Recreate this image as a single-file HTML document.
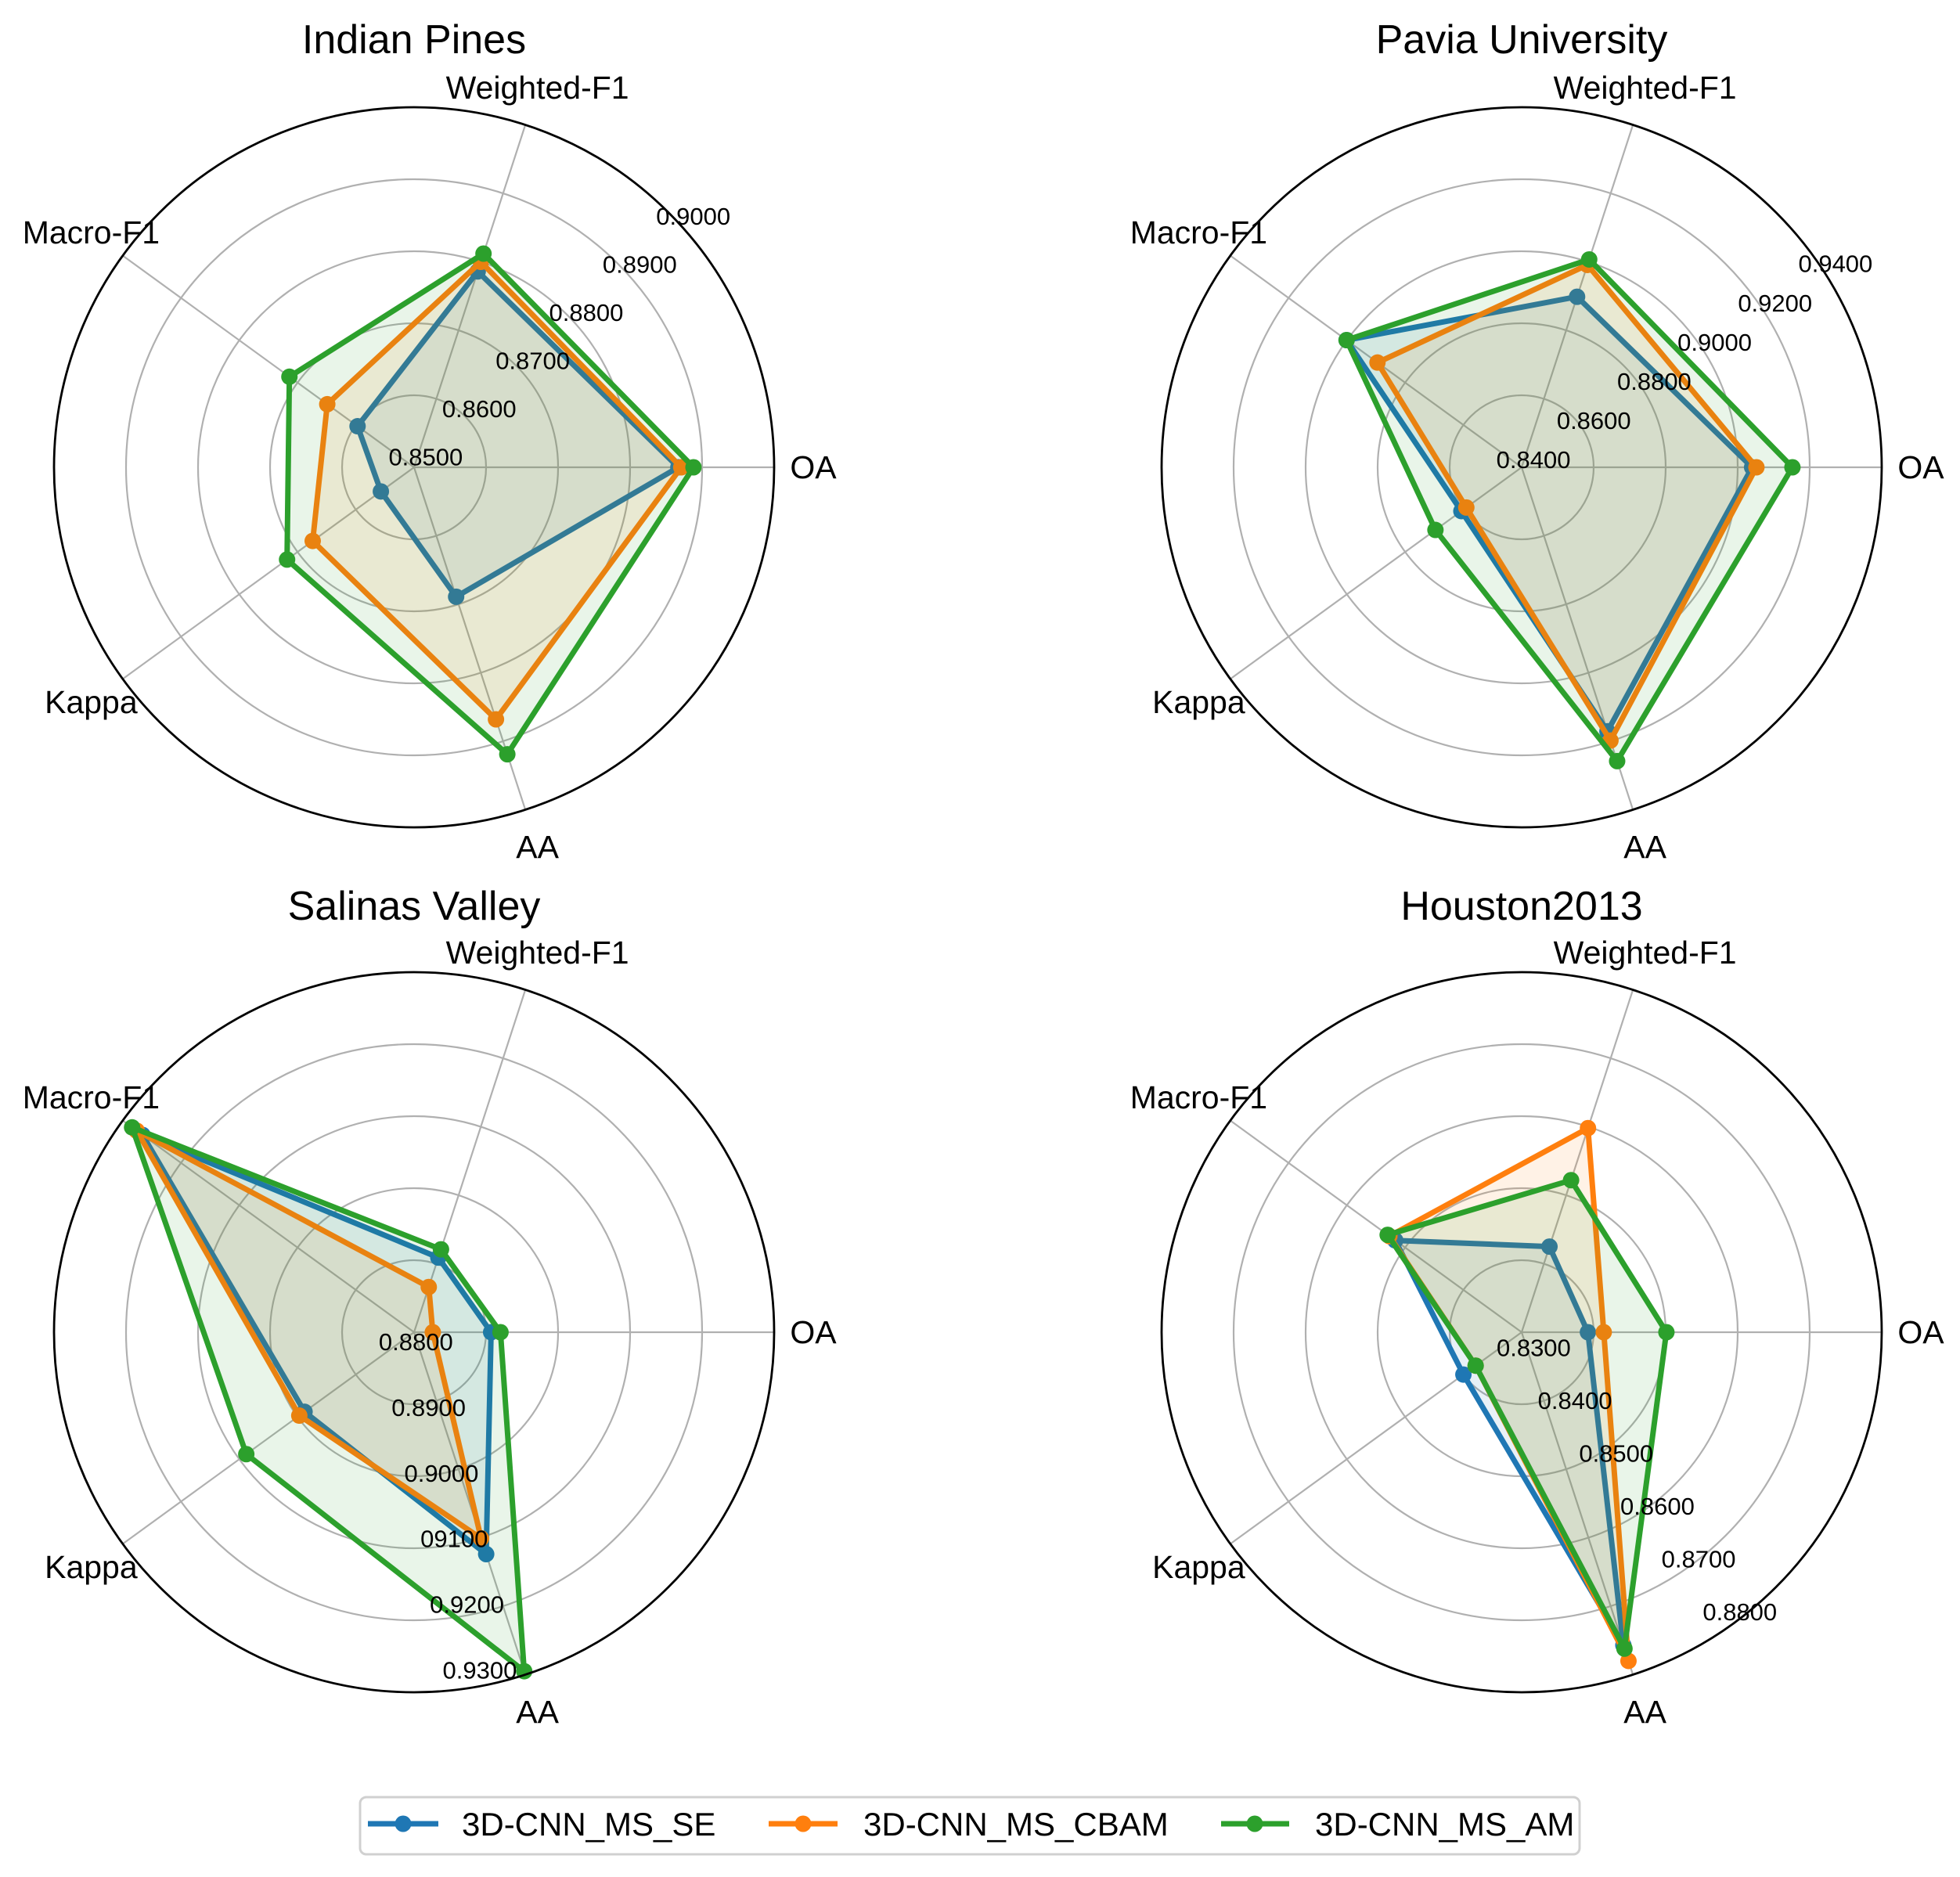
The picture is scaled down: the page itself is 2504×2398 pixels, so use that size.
<!DOCTYPE html>
<html><head><meta charset="utf-8"><style>
html,body{margin:0;padding:0;background:#fff;}
svg{display:block;font-family:"Liberation Sans","DejaVu Sans",sans-serif;}
</style></head><body>
<svg id="fig" width="2504" height="2398" viewBox="0 0 2504 2398" xmlns="http://www.w3.org/2000/svg">
<rect width="2504" height="2398" fill="#fff"/>
<g id="legend">
<rect x="460" y="2296" width="1558" height="73" rx="8" fill="#fff" stroke="#d0d0d0" stroke-width="3"/>
<g><line x1="470" y1="2330" x2="560" y2="2330" stroke="#1f77b4" stroke-width="7"/><circle cx="515" cy="2330" r="10.5" fill="#1f77b4"/><text x="590" y="2345" font-size="42">3D-CNN_MS_SE</text></g>
<g><line x1="982" y1="2330" x2="1070" y2="2330" stroke="#ff7f0e" stroke-width="7"/><circle cx="1026" cy="2330" r="10.5" fill="#ff7f0e"/><text x="1103" y="2345" font-size="42">3D-CNN_MS_CBAM</text></g>
<g><line x1="1560" y1="2330" x2="1647" y2="2330" stroke="#2ca02c" stroke-width="7"/><circle cx="1603" cy="2330" r="10.5" fill="#2ca02c"/><text x="1680" y="2345" font-size="42">3D-CNN_MS_AM</text></g>
</g>
</svg>
<script>
const categories = ["OA","Weighted-F1","Macro-F1","Kappa","AA"];
const seriesNames = ["3D-CNN_MS_SE","3D-CNN_MS_CBAM","3D-CNN_MS_AM"];
const seriesColors = ["#1f77b4","#ff7f0e","#2ca02c"];
const titles = ["Indian Pines","Pavia University","Salinas Valley","Houston2013"];
const indianSE   = [0.8867,0.8786,0.8597,0.8557,0.8689];
const indianCBAM = [0.8871,0.8800,0.8649,0.8674,0.8868];
const indianAM   = [0.8888,0.8812,0.8714,0.8718,0.8919];
const paviaSE    = [0.9040,0.8898,0.9001,0.8607,0.9171];
const paviaCBAM  = [0.9052,0.8991,0.8895,0.8590,0.9198];
const paviaAM    = [0.9152,0.9007,0.9001,0.8696,0.9258];
const salinasSE  = [0.8907,0.8909,0.9266,0.8988,0.9124];
const salinasCBAM= [0.8826,0.8866,0.9276,0.8997,0.9101];
const salinasAM  = [0.8920,0.8921,0.9284,0.9088,0.9295];
const houstonSE  = [0.8392,0.8425,0.8517,0.8400,0.8757];
const houstonCBAM= [0.8414,0.8598,0.8527,0.8379,0.8780];
const houstonAM  = [0.8501,0.8522,0.8530,0.8379,0.8762];
const indianTicks  = ["0.8500","0.8600","0.8700","0.8800","0.8900","0.9000"];
const paviaTicks   = ["0.8400","0.8600","0.8800","0.9000","0.9200","0.9400"];
const salinasTicks = ["0.8800","0.8900","0.9000","09100","0.9200","0.9300"];
const houstonTicks = ["0.8300","0.8400","0.8500","0.8600","0.8700","0.8800"];
const rMins = [0.85,0.84,0.88,0.83];
const rMaxs = [0.90,0.94,0.93,0.88];

const panels = [
 {cx:529,cy:597,ty:68,data:[indianSE,indianCBAM,indianAM],ticks:indianTicks,la:42,lk:1,lo:20,name:"indian-pines"},
 {cx:1944,cy:597,ty:68,data:[paviaSE,paviaCBAM,paviaAM],ticks:paviaTicks,la:33,lk:1,lo:18,name:"pavia-university"},
 {cx:529,cy:1702,ty:1175,data:[salinasSE,salinasCBAM,salinasAM],ticks:salinasTicks,la:-79,lk:0.93,lo:12,name:"salinas-valley"},
 {cx:1944,cy:1702,ty:1175,data:[houstonSE,houstonCBAM,houstonAM],ticks:houstonTicks,la:-52,lk:0.93,lo:25,name:"houston2013"}
];
const R = 460;
const NS = "http://www.w3.org/2000/svg";
const svg = document.getElementById('fig');
const legend = document.getElementById('legend');
function mk(tag, attrs, parent){const e=document.createElementNS(NS,tag);for(const k in attrs)e.setAttribute(k,attrs[k]);parent.appendChild(e);return e;}

panels.forEach((p,pi)=>{
  const g = mk('g',{},svg);
  
  
  svg.insertBefore(g, legend);
  const rScale = v => (v - rMins[pi])/(rMaxs[pi]-rMins[pi])*R;
  const pt = (ang, r) => [p.cx + r*Math.cos(ang*Math.PI/180), p.cy - r*Math.sin(ang*Math.PI/180)];
  const angOf = i => i*360/categories.length;
  for(let k=1;k<=5;k++){
    const c = mk('circle',{cx:p.cx,cy:p.cy,r:R*k/5,fill:'none',stroke:'#b0b0b0','stroke-width':2.2},g);
    
    
  }
  categories.forEach((cat,i)=>{
    const e = pt(angOf(i), R);
    const l = mk('line',{x1:p.cx,y1:p.cy,x2:e[0],y2:e[1],stroke:'#b0b0b0','stroke-width':2.2},g);
    
    
    const t = pt(angOf(i), 510);
    const tx = mk('text',{x:t[0],y:t[1]+14,'font-size':41,'text-anchor':'middle',fill:'#000'},g);
    tx.textContent = cat;
    
    
  });
  p.data.forEach((vals,si)=>{
    const pts = vals.map((v,i)=>pt(angOf(i), rScale(v)));
    const d = pts.map(q=>q[0].toFixed(1)+','+q[1].toFixed(1)).join(' ');
    const fill = mk('polygon',{points:d,fill:seriesColors[si],'fill-opacity':0.1,stroke:'none'},g);
    
    
    const line = mk('polygon',{points:d,fill:'none',stroke:seriesColors[si],'stroke-width':7,'stroke-linejoin':'round'},g);
    
    
    pts.forEach(q=>{
      const c = mk('circle',{cx:q[0],cy:q[1],r:10.5,fill:seriesColors[si]},g);
      
      
    });
  });
  p.ticks.forEach((lab,k)=>{
    const t = pt(p.la, (R*k/5)*p.lk + p.lo);
    const tx = mk('text',{x:t[0],y:t[1]+11,'font-size':31,'text-anchor':'middle',fill:'#000'},g);
    tx.textContent = lab;
    
    
  });
  const oc = mk('circle',{cx:p.cx,cy:p.cy,r:R,fill:'none',stroke:'#000','stroke-width':2.8},g);
  
  
  const title = mk('text',{x:p.cx,y:p.ty,'font-size':52,'text-anchor':'middle',fill:'#000'},g);
  title.textContent = titles[pi];
  
  
});
</script>
</body></html>
